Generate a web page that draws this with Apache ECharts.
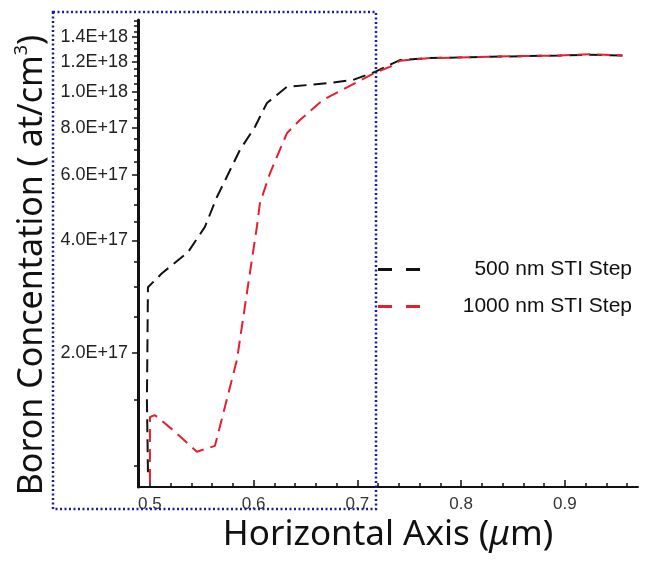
<!DOCTYPE html>
<html>
<head>
<meta charset="utf-8">
<script src="https://cdn.jsdelivr.net/npm/echarts@6/dist/echarts.min.js"></script>
<style>
  html, body { margin: 0; padding: 0; background: #fff; }
  #chart { width: 647px; height: 567px; }
</style>
</head>
<body>
<div id="chart"></div>
<script>
// x axis ticks (um)
var xTicks = [0.5, 0.6, 0.7, 0.8, 0.9];
var xMinorTicks = [0.52, 0.54, 0.56, 0.58, 0.62, 0.64, 0.66, 0.68, 0.72, 0.74, 0.76, 0.78,
                   0.82, 0.84, 0.86, 0.88, 0.92, 0.94, 0.96];
// y axis ticks (at/cm3), log axis
var yTicks = [2e17, 4e17, 6e17, 8e17, 1.0e18, 1.2e18, 1.4e18];
var yMinorTicks = [1.0e17, 1.5e17, 2.5e17, 3e17, 3.5e17, 4.5e17, 5e17, 5.5e17, 6.5e17, 7e17, 7.5e17,
                   8.5e17, 9e17, 9.5e17, 1.05e18, 1.1e18, 1.15e18, 1.25e18, 1.3e18, 1.35e18,
                   1.45e18, 1.5e18, 1.55e18];

// 500 nm STI Step
var blackX = [0.4981, 0.4971, 0.4981, 0.5116, 0.5366, 0.5530, 0.5646, 0.5867, 0.6012, 0.6128, 0.6320,
              0.6735, 0.6957, 0.7169, 0.7313, 0.7410, 0.7699, 0.8277, 0.8595, 0.8952, 0.9241, 0.9559];
var blackY = [9.6e16, 1.5e17, 3.0e17, 3.27e17, 3.72e17, 4.35e17, 5.23e17, 6.98e17, 8.05e17, 9.33e17, 1.03e18,
              1.055e18, 1.075e18, 1.13e18, 1.18e18, 1.215e18, 1.23e18, 1.24e18, 1.245e18, 1.25e18, 1.255e18, 1.25e18];

// 1000 nm STI Step
var redX = [0.5, 0.5, 0.5048, 0.5222, 0.5453, 0.5627, 0.5839, 0.5935, 0.6031, 0.6060, 0.6157, 0.6320,
            0.6446, 0.6667, 0.6995, 0.7188, 0.7313, 0.7410, 0.7699, 0.8277, 0.8595, 0.8952, 0.9241, 0.9559];
var redY = [8.0e16, 1.35e17, 1.365e17, 1.245e17, 1.09e17, 1.13e17, 1.92e17, 2.90e17, 4.35e17, 5.03e17, 6.05e17, 7.74e17,
            8.40e17, 9.5e17, 1.06e18, 1.13e18, 1.165e18, 1.21e18, 1.23e18, 1.24e18, 1.245e18, 1.25e18, 1.26e18, 1.25e18];

var seriesNames = ['500 nm STI Step', '1000 nm STI Step'];

var xMin = 0.4885, xMax = 0.9705;
var yMin = 8.77e16, yMax = 1.555e18;

// two-dash legend icon
var dashIcon = 'path://M0,0h14v3h-14z M28,0h14v3h-14z';

function toPairs(xs, ys) {
  return xs.map(function (x, i) { return [x, Math.log10(ys[i])]; });
}
function logList(arr) { return arr.map(function (v) { return Math.log10(v); }); }

var chart = echarts.init(document.getElementById('chart'));

var option = {
  animation: false,
  backgroundColor: '#fff',
  grid: { left: 138, right: 9, top: 20, bottom: 80 },
  legend: {
    left: 378,
    top: 259,
    orient: 'vertical',
    padding: 0,
    itemGap: 16,
    itemWidth: 44,
    itemHeight: 3,
    itemTextGap: 5,
    data: seriesNames.map(function (n) { return { name: n, icon: dashIcon }; }),
    formatter: function (name) { return '{r|' + name + '}'; },
    textStyle: {
      color: '#111',
      fontFamily: 'Liberation Sans',
      fontSize: 21,
      rich: { r: { width: 206, align: 'right', fontSize: 21, fontFamily: 'Liberation Sans', color: '#111' } }
    }
  },
  xAxis: [{
    type: 'value',
    position: 'bottom',
    min: xMin,
    max: xMax,
    name: 'Horizontal Axis ({i|\u03bc}m)',
    nameLocation: 'middle',
    nameGap: 27,
    nameTextStyle: {
      color: '#111', fontFamily: 'Noto Sans', fontSize: 35,
      rich: { i: { fontStyle: 'italic', fontFamily: 'Noto Sans', fontSize: 35, color: '#111' } }
    },
    axisLine: { onZero: false, lineStyle: { color: '#111', width: 2 } },
    axisTick: { inside: true, length: 7, customValues: xTicks, lineStyle: { color: '#111', width: 1.5 } },
    axisLabel: {
      customValues: xTicks, margin: 9, color: '#333', fontFamily: 'Liberation Sans', fontSize: 17,
      formatter: function (v) { return v.toFixed(1); }
    },
    splitLine: { show: false }
  }, {
    type: 'value',
    position: 'bottom',
    min: xMin,
    max: xMax,
    axisLine: { show: false },
    axisTick: { inside: true, length: 4, customValues: xMinorTicks, lineStyle: { color: '#111', width: 1.5 } },
    axisLabel: { show: false },
    splitLine: { show: false }
  }],
  yAxis: [{
    type: 'value',
    position: 'left',
    min: Math.log10(yMin),
    max: Math.log10(yMax),
    axisLine: { onZero: false, lineStyle: { color: '#111', width: 3 } },
    axisTick: { inside: false, length: 6, customValues: logList(yTicks), lineStyle: { color: '#111', width: 1.5 } },
    axisLabel: {
      customValues: logList(yTicks), margin: 10, color: '#222', fontFamily: 'Liberation Sans', fontSize: 18,
      formatter: function (v) { return Math.pow(10, v).toExponential(1).toUpperCase(); }
    },
    splitLine: { show: false }
  }, {
    type: 'value',
    position: 'left',
    min: Math.log10(yMin),
    max: Math.log10(yMax),
    axisLine: { show: false },
    axisTick: { inside: false, length: 4, customValues: logList(yMinorTicks), lineStyle: { color: '#111', width: 1.5 } },
    axisLabel: { show: false },
    splitLine: { show: false }
  }],
  series: [{
    name: seriesNames[0],
    type: 'line',
    xAxisIndex: 0,
    yAxisIndex: 0,
    showSymbol: false,
    symbol: 'none',
    clip: true,
    color: '#111',
    lineStyle: { color: '#111', width: 2, type: [13, 7] },
    data: toPairs(blackX, blackY)
  }, {
    name: seriesNames[1],
    type: 'line',
    xAxisIndex: 0,
    yAxisIndex: 0,
    showSymbol: false,
    symbol: 'none',
    clip: true,
    color: '#e3202e',
    lineStyle: { color: '#e3202e', width: 2, type: [13, 7] },
    data: toPairs(redX, redY)
  }],
  graphic: [{
    type: 'rect',
    shape: { x: 53, y: 12, width: 323, height: 497 },
    style: { fill: null, stroke: '#1c1ca0', lineWidth: 2.5, lineDash: [2, 2.5] },
    z: 100
  }, {
    type: 'text',
    x: 32,
    y: 265,
    rotation: Math.PI / 2,
    style: {
      text: 'Boron Concentation ( at/cm{s|3})',
      fill: '#111',
      fontFamily: 'Noto Sans',
      fontSize: 34,
      align: 'center',
      verticalAlign: 'middle',
      rich: { s: { fontSize: 18, fontFamily: 'Noto Sans', fill: '#111', padding: [0, 0, 20, 0] } }
    }
  }]
};

chart.setOption(option);
</script>
</body>
</html>
